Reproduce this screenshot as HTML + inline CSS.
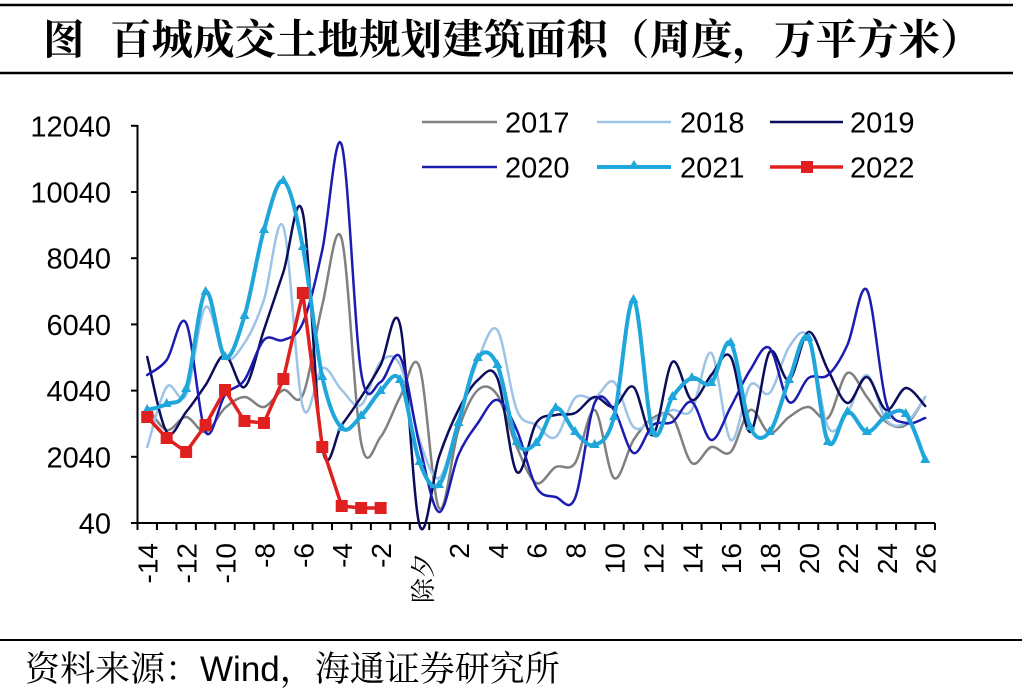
<!DOCTYPE html>
<html><head><meta charset="utf-8"><style>
html,body{margin:0;padding:0;background:#fff;}
svg{display:block;}
.t{font-family:"Liberation Sans",Arial,sans-serif;fill:#000;}
.cj{font-family:"Liberation Serif","Noto Serif CJK SC","Noto Sans CJK SC",serif;fill:#000;}
</style></head><body>
<svg id="s" width="1031" height="691" viewBox="0 0 1031 691" xmlns="http://www.w3.org/2000/svg">
<rect width="1031" height="691" fill="#fff"/>
<line x1="0" y1="5" x2="1013" y2="5" stroke="#000" stroke-width="2.5"/>
<line x1="0" y1="73" x2="1013" y2="73" stroke="#000" stroke-width="2.5"/>
<text class="cj" x="43" y="54" font-size="41.5" font-weight="bold">图</text>
<text class="cj" x="110" y="54" font-size="41.5" font-weight="bold">百城成交土地规划建筑面积（周度，万平方米）</text>
<line x1="0" y1="640" x2="1022" y2="640" stroke="#000" stroke-width="2"/>
<text class="cj" x="25" y="681" font-size="35">资料来源：<tspan font-family="Liberation Sans, sans-serif">Wind</tspan>，海通证券研究所</text>

<g class="t" font-size="29" text-anchor="end">
<text x="111" y="136.5">12040</text>
<text x="111" y="202.5">10040</text>
<text x="111" y="268.7">8040</text>
<text x="111" y="334.9">6040</text>
<text x="111" y="401.1">4040</text>
<text x="111" y="467.3">2040</text>
<text x="111" y="533.5">40</text>
</g>
<g id="axes" stroke="#000" stroke-width="2"></g>
<g id="xl" class="t" font-size="28" text-anchor="end"></g>
<g id="series" fill="none" stroke-linejoin="round" stroke-linecap="round"></g>
<g id="leg">
<line x1="422" y1="122" x2="497" y2="122" stroke="#808080" stroke-width="2.5"/>
<line x1="597" y1="122" x2="671" y2="122" stroke="#9dc3e6" stroke-width="2.5"/>
<line x1="770" y1="122" x2="843" y2="122" stroke="#0c0c5c" stroke-width="2.5"/>
<line x1="422" y1="167" x2="497" y2="167" stroke="#1c1cb0" stroke-width="2.5"/>
<line x1="597" y1="167" x2="671" y2="167" stroke="#1fa6da" stroke-width="4"/>
<polygon points="634,160 639.5,169 628.5,169" fill="#1fa6da"/>
<line x1="770" y1="167" x2="843" y2="167" stroke="#e0201e" stroke-width="3.5"/>
<rect x="801" y="161" width="12" height="12" fill="#e0201e"/>
<g class="t" font-size="29">
<text x="505" y="132.5">2017</text>
<text x="680" y="132.5">2018</text>
<text x="850" y="132.5">2019</text>
<text x="505" y="177.5">2020</text>
<text x="680" y="177.5">2021</text>
<text x="850" y="177.5">2022</text>
</g>
</g>
</svg>
<script>
(function(){
var NS="http://www.w3.org/2000/svg";
var x0=137.5,w=19.45;
function X(i){return x0+(i+0.5)*w;}
var axes=document.getElementById('axes');
function ln(x1,y1,x2,y2,p){var l=document.createElementNS(NS,'line');l.setAttribute('x1',x1);l.setAttribute('y1',y1);l.setAttribute('x2',x2);l.setAttribute('y2',y2);(p||axes).appendChild(l);return l;}
ln(x0,125,x0,524);
ln(x0-1,523,935,523);
var yt=[125.8,192,258.2,324.4,390.6,456.8,523];
yt.forEach(function(y){ln(131,y,x0,y);});
for(var k=0;k<=41;k++){var xx=x0+k*w;ln(xx,523,xx,530);}
var labs=['-14','','-12','','-10','','-8','','-6','','-4','','-2','','除夕','','2','','4','','6','','8','','10','','12','','14','','16','','18','','20','','22','','24','','26'];
var xl=document.getElementById('xl');
labs.forEach(function(s,i){if(!s)return;var t=document.createElementNS(NS,'text');var cx=X(i);
 var ey=543;if(s==='除夕'){t.setAttribute('font-family','"Liberation Serif","Noto Serif CJK SC",serif');t.setAttribute('font-size','25');ey=553;cx=cx+2;}
 t.setAttribute('transform','translate('+(cx+10.5)+','+ey+') rotate(-90)');t.textContent=s;xl.appendChild(t);});
var S=[
{c:'#808080',w:2.5,d:[407,430,417,432,408,397,407,390,395,305,239,443,437,397,367,508,430,390,395,447,483,467,463,410,478,440,418,417,463,447,452,410,433,417,407,418,373,397,422,425,397]},
{c:'#9dc3e6',w:2.5,d:[447,387,395,307,358,343,300,227,407,368,390,405,362,365,440,478,420,360,330,410,425,437,398,398,382,427,420,410,410,353,440,385,393,347,338,427,413,375,420,423,397]},
{c:'#0c0c5c',w:2.5,d:[357,432,412,385,355,387,330,272,213,448,425,397,365,325,525,457,410,380,378,472,423,415,413,397,407,387,435,362,400,375,357,432,352,380,332,370,403,377,410,388,406]},
{c:'#1c1cb0',w:2.5,d:[375,360,323,432,395,380,340,340,323,250,145,373,382,357,445,512,455,423,400,430,487,497,498,403,410,453,425,422,402,440,407,370,348,402,378,375,345,290,403,423,418]},
{c:'#1fa6da',w:4,tri:1,d:[410,404,389,292,357,316,230,181,247,377,428,416,391,380,462,485,423,358,365,442,443,408,432,445,417,300,432,397,378,383,343,427,432,380,338,442,412,432,416,414,460]},
{c:'#e0201e',w:3.5,sq:1,straight:1,d:[417,438,452,425,390,421,423,379,293,447,506,508,508]}
];
var g=document.getElementById('series');
S.forEach(function(s){
 var p=s.d.map(function(y,i){return [X(i),y];});
 var d='M'+p[0][0].toFixed(1)+' '+p[0][1];
 for(var i=0;i<p.length-1;i++){
  if(s.straight){d+=' L'+p[i+1][0].toFixed(1)+' '+p[i+1][1];continue;}
  var a=p[i-1]||p[i],b=p[i],c=p[i+1],e=p[i+2]||p[i+1];
  var c1x=b[0]+(c[0]-a[0])/6,c1y=b[1]+(c[1]-a[1])/6;
  var c2x=c[0]-(e[0]-b[0])/6,c2y=c[1]-(e[1]-b[1])/6;
  d+=' C'+c1x.toFixed(1)+' '+c1y.toFixed(1)+' '+c2x.toFixed(1)+' '+c2y.toFixed(1)+' '+c[0].toFixed(1)+' '+c[1];
 }
 var path=document.createElementNS(NS,'path');path.setAttribute('d',d);path.setAttribute('stroke',s.c);path.setAttribute('stroke-width',s.w);g.appendChild(path);
 if(s.tri){p.forEach(function(q){var t=document.createElementNS(NS,'polygon');t.setAttribute('points',q[0]+','+(q[1]-6)+' '+(q[0]+5)+','+(q[1]+3)+' '+(q[0]-5)+','+(q[1]+3));t.setAttribute('fill',s.c);g.appendChild(t);});}
 if(s.sq){p.forEach(function(q){var r=document.createElementNS(NS,'rect');r.setAttribute('x',q[0]-6);r.setAttribute('y',q[1]-6);r.setAttribute('width',12);r.setAttribute('height',12);r.setAttribute('fill',s.c);g.appendChild(r);});}
});
})();
</script>
</body></html>
